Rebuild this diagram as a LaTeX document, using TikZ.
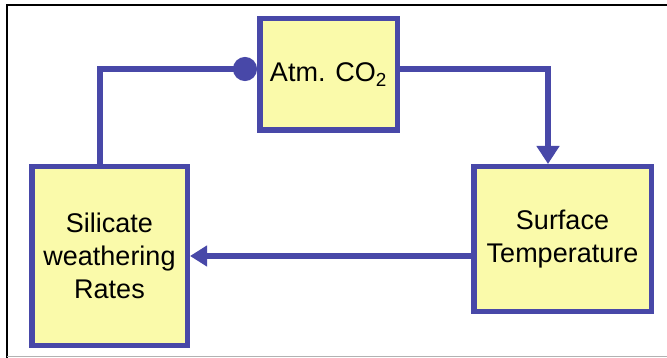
\documentclass[tikz,border=0pt]{standalone}
\usepackage{fontspec}
\setmainfont{Liberation Sans}
\usepackage{tikz}
\usetikzlibrary{positioning, arrows.meta}
\definecolor{loopblue}{HTML}{4848A8}
\definecolor{boxyellow}{HTML}{FAFAAA}

\begin{document}
\begin{tikzpicture}[
    x=1pt, y=-1pt,
    every node/.style={font=\fontsize{27}{33}\selectfont},
    cyclebox/.style={draw=loopblue, fill=boxyellow, line width=5.5pt, align=center, inner sep=0pt},
    link/.style={draw=loopblue, line width=6pt}
]
\useasboundingbox (0,0) rectangle (667,358);
% frame
\draw[line width=2pt] (7,358) -- (7,5) -- (667,5);
\draw[gray!60, line width=1.5pt] (7,356.5) -- (667,356.5);

% the three boxes
\node[cyclebox, minimum width=137.5pt, minimum height=111.5pt] (co2) at (328.5,74.5) {Atm. CO\textsubscript{2}};
\node[cyclebox, minimum width=155.5pt, minimum height=178.5pt] (silicate) at (109.5,256) {Silicate\\weathering\\Rates};
\node[cyclebox, minimum width=177.5pt, minimum height=144.5pt] (surface) at (562.5,239) {Surface\\Temperature};

\coordinate (lbend) at (100,69);
\coordinate (rbend) at (548,69);

% feedback loop
\draw[link, -{Circle[length=24pt]}] (silicate.north -| lbend) -- (lbend) -- (co2.west |- lbend);
\draw[link, -{Triangle[length=18pt, width=22pt]}] (co2.east |- rbend) -- (rbend) -- (surface.north -| rbend);
\draw[link, -{Triangle[length=17pt, width=20pt]}] (surface.west |- silicate) -- (silicate.east);
\end{tikzpicture}
\end{document}
